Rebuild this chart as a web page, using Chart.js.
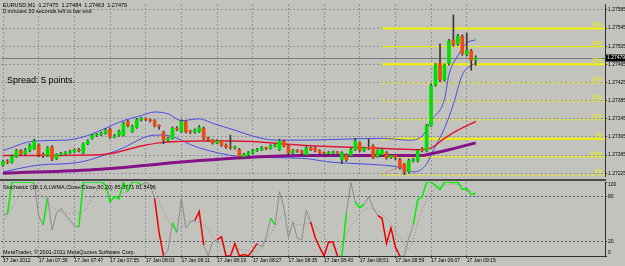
<!DOCTYPE html>
<html>
<head>
<meta charset="utf-8">
<script src="https://cdn.jsdelivr.net/npm/chart.js@4.4.0/dist/chart.umd.min.js"></script>
<style>
  html, body { margin:0; padding:0; background:#c3c3bd; }
  #wrap { position:relative; width:625px; height:266px; overflow:hidden; background:#c3c3bd; }
  #price { position:absolute; left:0; top:0; }
  #stoch { position:absolute; left:0; top:181px; }
  #sep { position:absolute; left:0; top:179px; width:606px; height:2px; background:#4a4a4a; }
</style>
</head>
<body>
<div id="wrap">
  <canvas id="price" width="625" height="180"></canvas>
  <div id="sep"></div>
  <canvas id="stoch" width="625" height="85"></canvas>
</div>
<script>
'use strict';

/* ---- EURUSD M1, 17 Jan 2012 07:31 .. 09:17 ---- */

const open = [
  1.27243,1.27251,1.27249,1.27262,1.27275,1.27268,1.27275,1.27279,1.27287,1.27266,
  1.27264,1.27283,1.27257,1.27266,1.27268,1.27270,1.27273,1.27277,1.27270,1.27290,
  1.27302,1.27309,1.27310,1.27313,1.27322,1.27305,1.27309,1.27309,1.27339,1.27317,
  1.27326,1.27343,1.27345,1.27343,1.27341,1.27330,1.27315,1.27298,1.27302,1.27324,
  1.27317,1.27339,1.27317,1.27316,1.27317,1.27324,1.27302,1.27298,1.27292,1.27296,
  1.27287,1.27283,1.27281,1.27277,1.27262,1.27266,1.27270,1.27275,1.27277,1.27281,
  1.27280,1.27285,1.27277,1.27296,1.27285,1.27270,1.27275,1.27274,1.27266,1.27281,
  1.27281,1.27275,1.27270,1.27268,1.27270,1.27271,1.27255,1.27266,1.27264,1.27277,
  1.27292,1.27275,1.27281,1.27285,1.27262,1.27266,1.27270,1.27260,1.27264,1.27255,
  1.27245,1.27228,1.27253,1.27253,1.27279,1.27275,1.27330,1.27420,1.27467,1.27431,
  1.27467,1.27519,1.27510,1.27527,1.27487,1.27495,1.27475
];
const close = [
  1.27251,1.27249,1.27262,1.27275,1.27268,1.27275,1.27287,1.27296,1.27266,1.27264,
  1.27281,1.27257,1.27266,1.27268,1.27270,1.27273,1.27277,1.27275,1.27290,1.27296,
  1.27309,1.27310,1.27313,1.27320,1.27305,1.27307,1.27317,1.27335,1.27330,1.27328,
  1.27343,1.27345,1.27343,1.27341,1.27330,1.27328,1.27298,1.27302,1.27324,1.27322,
  1.27339,1.27317,1.27316,1.27320,1.27326,1.27302,1.27298,1.27292,1.27296,1.27287,
  1.27283,1.27281,1.27282,1.27262,1.27266,1.27270,1.27275,1.27277,1.27281,1.27280,
  1.27285,1.27287,1.27296,1.27285,1.27270,1.27275,1.27274,1.27270,1.27281,1.27277,
  1.27275,1.27270,1.27268,1.27270,1.27271,1.27270,1.27270,1.27255,1.27277,1.27296,
  1.27275,1.27281,1.27280,1.27260,1.27275,1.27277,1.27260,1.27264,1.27260,1.27238,
  1.27228,1.27253,1.27255,1.27275,1.27275,1.27330,1.27418,1.27463,1.27431,1.27463,
  1.27517,1.27508,1.27527,1.27489,1.27495,1.27474,1.27479
];
const high = [
  1.27254,1.27255,1.27265,1.27278,1.27277,1.27280,1.27290,1.27300,1.27290,1.27270,
  1.27284,1.27286,1.27268,1.27271,1.27273,1.27276,1.27279,1.27280,1.27292,1.27299,
  1.27311,1.27313,1.27316,1.27324,1.27325,1.27311,1.27320,1.27338,1.27342,1.27331,
  1.27346,1.27348,1.27347,1.27345,1.27343,1.27332,1.27318,1.27305,1.27327,1.27328,
  1.27343,1.27341,1.27320,1.27323,1.27330,1.27327,1.27305,1.27300,1.27299,1.27298,
  1.27290,1.27309,1.27285,1.27280,1.27269,1.27273,1.27278,1.27280,1.27284,1.27283,
  1.27288,1.27290,1.27300,1.27298,1.27287,1.27278,1.27277,1.27276,1.27285,1.27283,
  1.27283,1.27277,1.27272,1.27273,1.27274,1.27273,1.27272,1.27268,1.27280,1.27302,
  1.27294,1.27283,1.27300,1.27288,1.27277,1.27279,1.27273,1.27267,1.27266,1.27258,
  1.27247,1.27256,1.27258,1.27278,1.27282,1.27333,1.27422,1.27467,1.27510,1.27466,
  1.27520,1.27574,1.27531,1.27530,1.27534,1.27498,1.27484
];
const low = [
  1.27240,1.27246,1.27247,1.27260,1.27265,1.27266,1.27272,1.27277,1.27262,1.27260,
  1.27262,1.27253,1.27255,1.27264,1.27266,1.27268,1.27271,1.27272,1.27268,1.27288,
  1.27300,1.27306,1.27308,1.27311,1.27302,1.27303,1.27306,1.27307,1.27327,1.27315,
  1.27324,1.27340,1.27341,1.27338,1.27327,1.27322,1.27290,1.27295,1.27300,1.27319,
  1.27315,1.27314,1.27312,1.27313,1.27315,1.27299,1.27295,1.27289,1.27290,1.27284,
  1.27280,1.27278,1.27278,1.27258,1.27259,1.27263,1.27267,1.27273,1.27275,1.27277,
  1.27278,1.27283,1.27275,1.27283,1.27266,1.27268,1.27271,1.27266,1.27264,1.27275,
  1.27272,1.27267,1.27264,1.27266,1.27268,1.27267,1.27246,1.27251,1.27262,1.27275,
  1.27272,1.27273,1.27277,1.27257,1.27260,1.27264,1.27256,1.27257,1.27255,1.27234,
  1.27222,1.27225,1.27250,1.27250,1.27272,1.27272,1.27328,1.27417,1.27427,1.27428,
  1.27463,1.27505,1.27507,1.27485,1.27484,1.27452,1.27463
];

// bollinger bands (blue), read at a few bars
const upperBar = [0,7,14,18,22,27,31,34,37,40,44,47,52,56,61,67,76,85,91,94,96,99,100,102,104,106];
const upperVal = [1.27275,1.27296,1.27298,1.27305,1.27320,1.27341,1.27352,1.27360,1.27356,1.27341,
                  1.27345,1.27335,1.27320,1.27307,1.27298,1.27298,1.27300,1.27302,1.27298,1.27307,
                  1.27341,1.27388,1.27442,1.27484,1.27512,1.27519];
const lowerBar = [0,8,17,26,34,36,44,53,67,74,82,89,92,95,96,99,101,103,105,106];
const lowerVal = [1.27228,1.27243,1.27249,1.27277,1.27309,1.27309,1.27281,1.27262,1.27258,1.27249,
                  1.27245,1.27238,1.27228,1.27245,1.27266,1.27324,1.27377,1.27442,1.27463,1.27467];
// moving averages
const redMaBar = [0,22,31,35,44,52,67,82,93,96,99,102,106];
const redMaVal = [1.27264,1.27266,1.27285,1.27292,1.27296,1.27296,1.27287,1.27281,1.27277,1.27281,1.27302,1.27320,1.27339];
const slowMaBar = [0,22,44,55,67,89,94,96,100,106];
const slowMaVal = [1.27225,1.27234,1.27253,1.27260,1.27264,1.27264,1.27264,1.27268,1.27277,1.27292];
// dotted red trend segment
const trendBar = [85,91];
const trendVal = [1.27223,1.27247];

// fibo levels (from bar 85 to the right edge)
const fibFrom   = 85;
const fibLevels = [1.27544,1.27504,1.27465,1.27424,1.27384,1.27343,1.27301,1.27261,1.27221];
const fibLabels = ['26%','29%','25%','29%','15%','13%','5%','Entry','5%'];

const priceTicks = [1.27225,1.27265,1.27305,1.27345,1.27385,1.27425,1.27465,1.27505,1.27545,1.27585];
const timeTickBars = [0,8,16,24,32,40,48,56,64,72,80,88,96,104];
const timeLabels = ['17 Jan 2012','17 Jan 07:39','17 Jan 07:47','17 Jan 07:55','17 Jan 08:03',
  '17 Jan 08:11','17 Jan 08:19','17 Jan 08:27','17 Jan 08:35','17 Jan 08:43','17 Jan 08:51',
  '17 Jan 08:59','17 Jan 09:07','17 Jan 09:15'];

// stochastic (18,1,6) main line per bar, colour state per bar (k grey, g up, r down)
const stochMain = [
  56,57,100,100,100,100,100,99,55,42,
  79,35,58,64,56,48,41,39,100,100,
  100,100,100,96,73,80,77,100,88,100,
  100,96,100,96,78,32,0,8,45,32,
  78,38,46,48,60,15,0,19,22,26,
  0,0,17,0,2,0,8,17,12,25,
  51,42,87,65,25,46,24,22,62,46,
  25,12,0,19,19,0,0,58,100,73,
  65,70,80,65,55,51,17,38,12,0,
  0,24,42,76,80,100,100,95,90,100,
  100,99,100,90,91,83,85
];
const stochState =
  'kggggggkkgkkkkkkkggggggggggggggkkkrrkkgkkkkrrkkk' +
  'rrrrrrrrrkkkgkkkkkkkkrrrrrrkgkkggkkkrrrrrkkkgggggggggggggg';
const signalBar = [0,3,6,9,12,15,18,21,24,27,30,33,36,39,42,45,48,51,54,57,60,63,66,69,72,75,78,82,86,89,91,93,95,98,102,106];
const signalVal = [45,75,95,80,62,58,60,88,90,86,95,97,60,35,48,42,20,12,8,6,30,55,42,44,25,10,40,65,51,25,10,45,75,95,97,81.5];
const stochLevels = [0,20,80,100];

const BG    = '#c3c3bd';
const GRID  = '#9292a2';
const AXIS  = '#303030';
const FONT  = 'Liberation Sans';
Chart.defaults.font.family = FONT;
Chart.defaults.animation = false;

const xMin = -0.45, xMax = 135;
const pts = (xs, ys) => xs.map((x, i) => ({ x, y: ys[i] }));

const baseX = () => ({
  type: 'linear', min: xMin, max: xMax, offset: false,
  afterBuildTicks: s => { s.ticks = timeTickBars.map(v => ({ value: v })); },
  grid: { color: GRID, offset: false, drawTicks: false },
  border: { display: false, dash: [2, 2] },
});

// ── price pane ──
const fibSets = fibLevels.map((lv, k) => ({
  type: 'line',
  data: [{ x: fibFrom, y: lv }, { x: xMax, y: lv }],
  borderColor: '#f2f200',
  borderWidth: [2, 1, 2, 1, 1, 1, 2, 1, 1][k],
  borderDash: [[], [], [], [3, 2], [3, 2], [3, 2], [], [], [3, 2]][k],
  pointRadius: 0, order: 20 + k,
}));

const priceText = {
  id: 'priceText',
  beforeDatasetsDraw(chart) {
    const { ctx, chartArea: a, scales: { y } } = chart;
    const py = y.getPixelForValue(close[close.length - 1]);
    ctx.save();
    ctx.strokeStyle = '#7a7a7a'; ctx.lineWidth = 1;
    ctx.beginPath(); ctx.moveTo(a.left, Math.round(py) + 0.5); ctx.lineTo(a.right, Math.round(py) + 0.5); ctx.stroke();
    ctx.restore();
  },
  afterDraw(chart) {
    const { ctx, chartArea: a, scales: { y } } = chart;
    ctx.save();
    ctx.fillStyle = '#000';
    ctx.textBaseline = 'middle';
    ctx.font = `5.5px "${FONT}"`;
    ctx.fillText('EURUSD,M1  1.27475  1.27484  1.27463  1.27479', 3, 5);
    ctx.fillText('0 minutes 30 seconds left to bar end', 3, 11);
    ctx.font = `9px "${FONT}"`;
    ctx.fillText('Spread: 5 points.', 7, 81);
    // fibo labels
    ctx.font = `5px "${FONT}"`;
    ctx.fillStyle = '#f2f200';
    ctx.textAlign = 'right';
    ctx.textBaseline = 'bottom';
    fibLevels.forEach((lv, k) => ctx.fillText(fibLabels[k], a.right - 3, y.getPixelForValue(lv) - 1));
    // current price tag
    const last = close[close.length - 1];
    const py = y.getPixelForValue(last);
    ctx.fillStyle = '#000';
    ctx.fillRect(a.right + 1, py - 3.5, 19, 7);
    ctx.fillStyle = '#fff';
    ctx.textAlign = 'left';
    ctx.textBaseline = 'middle';
    ctx.fillText(last.toFixed(5), a.right + 2, py);
    ctx.restore();
  }
};

new Chart(document.getElementById('price'), {
  type: 'bar',
  data: {
    datasets: [
      {
        label: 'body',
        data: open.map((o, i) => ({ x: i, y: [o, close[i]] })),
        backgroundColor: open.map((o, i) => close[i] >= o ? '#00e000' : '#f04a14'),
        borderWidth: 0, barThickness: 3, minBarLength: 1, grouped: false, order: 0,
      },
      {
        label: 'wick',
        data: low.map((l, i) => ({ x: i, y: [l, high[i]] })),
        backgroundColor: '#383838',
        borderWidth: 0, barThickness: 1, grouped: false, order: 1,
      },
      { type: 'line', data: pts(redMaBar, redMaVal), borderColor: '#e01838', borderWidth: 1.5,
        pointRadius: 0, cubicInterpolationMode: 'monotone', order: 2 },
      { type: 'line', data: pts(slowMaBar, slowMaVal), borderColor: '#86128a', borderWidth: 3,
        pointRadius: 0, cubicInterpolationMode: 'monotone', order: 3 },
      { type: 'line', data: pts(upperBar, upperVal), borderColor: '#4a4ae8', borderWidth: 1,
        pointRadius: 0, cubicInterpolationMode: 'monotone', order: 4 },
      { type: 'line', data: pts(lowerBar, lowerVal), borderColor: '#4a4ae8', borderWidth: 1,
        pointRadius: 0, cubicInterpolationMode: 'monotone', order: 5 },
      { type: 'line', data: pts(trendBar, trendVal), borderColor: '#e83030', borderWidth: 1,
        borderDash: [1, 2], pointRadius: 0, order: 6 },
      ...fibSets,
    ]
  },
  options: {
    responsive: false,
    devicePixelRatio: 1,
    layout: { padding: { left: 1, top: 2, right: 0, bottom: 1 } },
    plugins: { legend: { display: false }, tooltip: { enabled: false } },
    scales: {
      x: { ...baseX(), ticks: { display: false }, afterFit: s => { s.height = 0; } },
      y: {
        position: 'right',
        min: 1.27219, max: 1.27598,
        afterBuildTicks: s => { s.ticks = priceTicks.map(v => ({ value: v })); },
        ticks: { callback: v => v.toFixed(5), font: { size: 5 }, color: '#000', padding: 1, autoSkip: false },
        grid: { color: GRID, tickLength: 2, tickColor: AXIS },
        border: { color: AXIS, dash: [2, 2] },
        afterFit: s => { s.width = 20; },
      }
    }
  },
  plugins: [priceText]
});

// ── stochastic pane ──
const segCol = { k: '#8a8a8a', g: '#00ee00', r: '#ee0000' };

const stochText = {
  id: 'stochText',
  afterDraw(chart) {
    const { ctx, chartArea: a, scales: { y } } = chart;
    ctx.save();
    ctx.fillStyle = '#000';
    ctx.textBaseline = 'middle';
    ctx.font = `5.5px "${FONT}"`;
    ctx.fillText('Stochastic (18,1,6,LWMA,Close/Close,80,20) 85.3771 81.5496', 3, 6);
    ctx.fillText('MetaTrader, \u00a9 2001-2011 MetaQuotes Software Corp.', 3, 71);
    ctx.font = `5px "${FONT}"`;
    stochLevels.forEach(v => {
      const py = Math.min(Math.max(y.getPixelForValue(v), a.top + 3), a.bottom - 3);
      ctx.fillText(String(v), a.right + 3, py);
    });
    ctx.restore();
  }
};

new Chart(document.getElementById('stoch'), {
  type: 'line',
  data: {
    datasets: [
      {
        data: stochMain.map((v, i) => ({ x: i, y: v })),
        borderColor: '#8a8a8a', borderWidth: 1, pointRadius: 0,
        segment: {
          borderColor: c => segCol[stochState[c.p0DataIndex]],
          borderWidth: c => stochState[c.p0DataIndex] === 'k' ? 1 : 1.5,
        },
        order: 0,
      },
      {
        data: pts(signalBar, signalVal),
        borderColor: '#8a8a8a', borderWidth: 1, borderDash: [1, 2],
        pointRadius: 0, cubicInterpolationMode: 'monotone', order: 1,
      },
    ]
  },
  options: {
    responsive: false,
    devicePixelRatio: 1,
    layout: { padding: { left: 1, top: 1, right: 0, bottom: 0 } },
    plugins: { legend: { display: false }, tooltip: { enabled: false } },
    scales: {
      x: {
        ...baseX(),
        grid: { color: GRID, offset: false, drawTicks: true, tickLength: 2, tickColor: AXIS },
        border: { display: true, color: AXIS, dash: [2, 2] },
        ticks: {
          callback: (v, i) => timeLabels[i], align: 'start', maxRotation: 0, autoSkip: false,
          font: { size: 5 }, color: '#000', padding: 0,
        },
        afterFit: s => { s.height = 10; },
      },
      y: {
        position: 'right',
        min: 0, max: 100,
        afterBuildTicks: s => { s.ticks = stochLevels.map(v => ({ value: v })); },
        ticks: { display: false },
        grid: {
          color: c => (c.tick && (c.tick.value === 20 || c.tick.value === 80)) ? '#5c5c6c' : 'rgba(0,0,0,0)',
          tickLength: 2, tickColor: AXIS,
        },
        border: { color: AXIS, dash: [2, 2] },
        afterFit: s => { s.width = 20; },
      }
    }
  },
  plugins: [stochText]
});
</script>
</body>
</html>
